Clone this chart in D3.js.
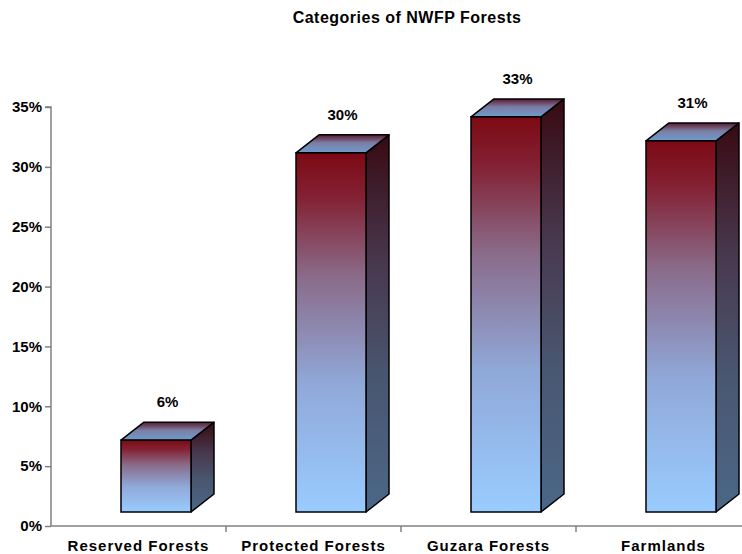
<!DOCTYPE html>
<html>
<head>
<meta charset="utf-8">
<script src="https://cdn.jsdelivr.net/npm/d3@7"></script>
<style>
  html, body { margin: 0; padding: 0; background: #fff; }
  svg { display: block; font-family: Arial, "Liberation Sans", sans-serif; }
</style>
</head>
<body>
<svg id="chart" width="742" height="554"></svg>
<script>
// Forest category shares (percent)
const categories = ["Reserved Forests", "Protected Forests", "Guzara Forests", "Farmlands"];
const shares = [6, 30, 33, 31];
const valueLabels = ["6%", "30%", "33%", "31%"];
const yTicks = [0, 5, 10, 15, 20, 25, 30, 35];
const chartTitle = "Categories of NWFP Forests";

const svg = d3.select("#chart");

const plot = { left: 51, right: 751, top: 107, bottom: 526 };
const depth = { dx: 23, dy: 18 };   // oblique extrusion of each column
const floorLift = 14;               // front faces sit above the axis floor

const x = d3.scaleBand().domain(categories).range([plot.left, plot.right]);
const y = d3.scaleLinear().domain([0, 35]).range([plot.bottom, plot.top]);

// Gradients for the three visible faces of each column
const defs = svg.append("defs");
function vGrad(id, stops) {
  const g = defs.append("linearGradient").attr("id", id)
    .attr("x1", 0).attr("y1", 0).attr("x2", 0).attr("y2", 1);
  stops.forEach(([o, c]) => g.append("stop").attr("offset", o).attr("stop-color", c));
}
vGrad("gFront", [[0, "#7c0a14"], [0.12, "#832032"], [0.34, "#8a6a88"], [0.64, "#90a8d8"], [1, "#99ccff"]]);
vGrad("gSide", [[0, "#380a12"], [0.34, "#48384e"], [0.64, "#495670"], [1, "#4b6787"]]);
vGrad("gTop", [[0, "#5c1a2c"], [0.45, "#7c7ea6"], [1, "#6c9ccc"]]);

// Title
svg.append("text")
  .attr("x", 407).attr("y", 23)
  .attr("text-anchor", "middle")
  .attr("font-size", 16).attr("font-weight", "bold")
  .attr("letter-spacing", 0.5)
  .text(chartTitle);

// Y axis
const yAxis = d3.axisLeft(y).tickValues(yTicks).tickFormat(d => d + "%").tickSize(6).tickPadding(3);
const gy = svg.append("g").attr("transform", `translate(${plot.left},0)`).call(yAxis);
gy.select(".domain").attr("stroke", "#808080").attr("stroke-width", 1.5).attr("d", `M-6,${plot.top}H0V${plot.bottom}`);
gy.selectAll(".tick line").attr("stroke", "#808080").attr("stroke-width", 1.5);
gy.selectAll(".tick text").attr("font-size", 15).attr("font-weight", "bold").attr("fill", "#000")
  .attr("font-family", "Arial, 'Liberation Sans', sans-serif");

// X axis: ticks on category boundaries
const gx = svg.append("g");
gx.append("line")
  .attr("x1", plot.left).attr("x2", 742)
  .attr("y1", plot.bottom).attr("y2", plot.bottom)
  .attr("stroke", "#808080").attr("stroke-width", 1.5);
gx.selectAll("line.tick")
  .data(categories.slice(1))
  .join("line")
  .attr("class", "tick")
  .attr("x1", d => x(d)).attr("x2", d => x(d))
  .attr("y1", plot.bottom).attr("y2", plot.bottom + 6)
  .attr("stroke", "#808080").attr("stroke-width", 1.5);
gx.selectAll("text")
  .data(categories)
  .join("text")
  .attr("x", d => x(d) + x.bandwidth() / 2)
  .attr("y", 551)
  .attr("text-anchor", "middle")
  .attr("font-size", 15).attr("font-weight", "bold")
  .attr("letter-spacing", 1)
  .text(d => d);

// Columns
const barW = x.bandwidth() * 0.4;
const barOffset = x.bandwidth() * 0.4;
const data = categories.map((c, i) => ({ c, v: shares[i], label: valueLabels[i] }));

const bars = svg.append("g").selectAll("g").data(data).join("g");
const fx0 = d => x(d.c) + barOffset;
const fx1 = d => fx0(d) + barW;
const fyTop = d => y(d.v) - floorLift;
const fyBot = () => y(0) - floorLift;

bars.append("path")
  .attr("d", d => `M${fx1(d)},${fyBot()}L${fx1(d) + depth.dx},${fyBot() - depth.dy}L${fx1(d) + depth.dx},${fyTop(d) - depth.dy}L${fx1(d)},${fyTop(d)}Z`)
  .attr("fill", "url(#gSide)").attr("stroke", "#000").attr("stroke-width", 1.5).attr("stroke-linejoin", "round");

bars.append("path")
  .attr("d", d => `M${fx0(d)},${fyTop(d)}L${fx0(d) + depth.dx},${fyTop(d) - depth.dy}L${fx1(d) + depth.dx},${fyTop(d) - depth.dy}L${fx1(d)},${fyTop(d)}Z`)
  .attr("fill", "url(#gTop)").attr("stroke", "#000").attr("stroke-width", 1.5).attr("stroke-linejoin", "round");

bars.append("rect")
  .attr("x", fx0).attr("y", fyTop)
  .attr("width", barW).attr("height", d => fyBot() - fyTop(d))
  .attr("fill", "url(#gFront)").attr("stroke", "#000").attr("stroke-width", 1.5);

bars.append("text")
  .attr("x", d => fx0(d) + barW / 2 + depth.dx / 2)
  .attr("y", d => fyTop(d) - depth.dy - 15)
  .attr("text-anchor", "middle")
  .attr("font-size", 15).attr("font-weight", "bold")
  .text(d => d.label);
</script>
</body>
</html>
